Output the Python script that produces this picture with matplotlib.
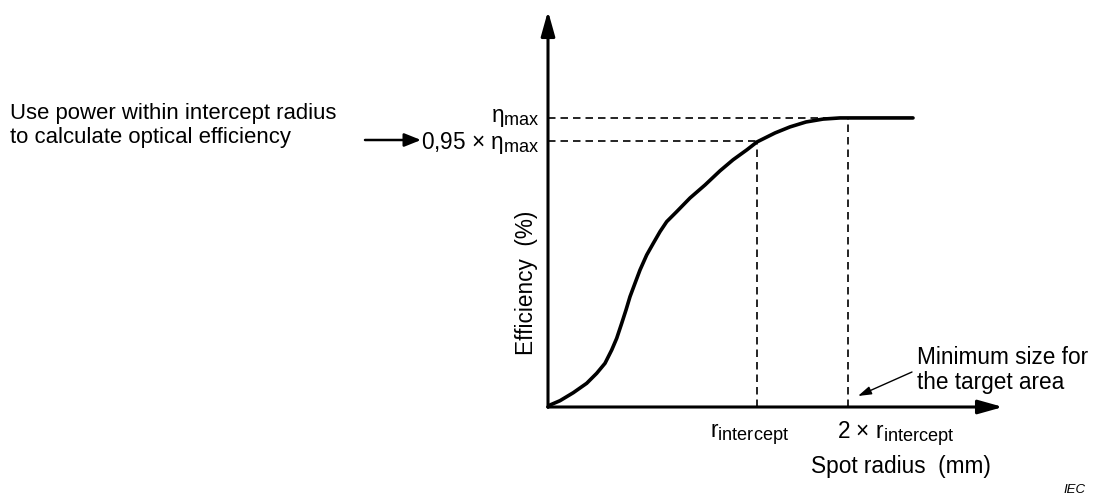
import numpy as np
import matplotlib
matplotlib.use("Agg")
import matplotlib.pyplot as plt
import matplotlib._mathtext as mt

plt.rcParams['font.family'] = ['Liberation Sans', 'DejaVu Sans']
plt.rcParams['mathtext.fontset'] = 'custom'
plt.rcParams['mathtext.rm'] = 'Liberation Sans'
plt.rcParams['mathtext.it'] = 'Liberation Sans:italic'
# subscripts in the reference are a bit larger than mathtext's default
mt.SHRINK_FACTOR = 0.8

# # **data**

radius_mm = [0, 0.02, 0.12, 0.253, 0.387, 0.487, 0.57, 0.637, 0.687, 0.737,
             0.78, 0.82, 0.87, 0.92, 0.987, 1.053, 1.12, 1.187, 1.287, 1.42,
             1.57, 1.72, 1.85, 1.99, 2.09, 2.27, 2.42, 2.58, 2.75, 2.92, 3.65]
efficiency_pct = [0, 0.69, 2.18, 4.95, 8.2, 11.66, 15.12, 19.72, 23.77, 28.96,
                  33.56, 38.17, 42.8, 47.4, 52.6, 56.64, 60.66, 64.12, 67.58, 72.3,
                  76.8, 81.7, 85.5, 89.0, 91.7, 94.8, 96.9, 98.6, 99.6, 100, 100]

r_intercept = 2.09
two_r_intercept = 3.0
eta_max = 100
eta_95 = 92.0

x_max = 4.55
y_max = 136.3

W, H = 1101, 498
fs = 16.3


def fx(px):
    return px / W


def fy(py):
    return 1 - py / H


fig = plt.figure(figsize=(W / 100, H / 100), dpi=100)
ax = fig.add_axes([fx(548), fy(407), (1003 - 548) / W, (407 - 13) / H])
ax.set_xlim(0, x_max)
ax.set_ylim(0, y_max)
ax.axis('off')

# curve
ax.plot(radius_mm, efficiency_pct, color='black', lw=2.6,
        solid_joinstyle='round', solid_capstyle='round', clip_on=False)

# dashed guides
dash = dict(color='black', lw=1.2, ls=(0, (4.5, 3)))
ax.plot([0, two_r_intercept], [eta_max, eta_max], **dash)
ax.plot([0, r_intercept], [eta_95, eta_95], **dash)
ax.plot([r_intercept, r_intercept], [0, eta_95], **dash)
ax.plot([two_r_intercept, two_r_intercept], [0, eta_max], **dash)

# axes with arrows
axis_arrow = dict(arrowstyle='-|>,head_length=1.5,head_width=0.42',
                  lw=2.2, color='black', shrinkA=0, shrinkB=0, mutation_scale=10)
ax.annotate('', xy=(1, 0), xytext=(0, 0), xycoords='axes fraction',
            arrowprops=axis_arrow, annotation_clip=False)
ax.annotate('', xy=(0, 1.005), xytext=(0, 0), xycoords='axes fraction',
            arrowprops=axis_arrow, annotation_clip=False)

# y labels
ax.text(-0.018, eta_max, r'$\mathregular{\eta_{max}}$', ha='right', va='center',
        fontsize=fs, transform=ax.get_yaxis_transform())
ax.text(-0.018, eta_95 - 0.5, r'0,95 $\mathregular{\times\ \eta_{max}}$', ha='right',
        va='center', fontsize=fs, transform=ax.get_yaxis_transform())

# x labels
ax.text(r_intercept - 0.07, -0.068, r'$\mathregular{r_{intercept}}$', ha='center',
        va='center', fontsize=fs, transform=ax.get_xaxis_transform())
ax.text(two_r_intercept + 0.48, -0.068, r'2 $\mathregular{\times\ r_{intercept}}$',
        ha='center', va='center', fontsize=fs, transform=ax.get_xaxis_transform())

fig.text(fx(901), fy(466), 'Spot radius  (mm)', ha='center', va='center', fontsize=fs)
fig.text(fx(527), fy(283), 'Efficiency  (%)', ha='center', va='center',
         rotation=90, fontsize=fs)

# left note with arrow
fig.text(fx(10), fy(113), 'Use power within intercept radius', ha='left',
         va='center', fontsize=15.9)
fig.text(fx(10), fy(137), 'to calculate optical efficiency', ha='left',
         va='center', fontsize=15.9)
fig.add_artist(matplotlib.patches.FancyArrowPatch(
    (fx(365), fy(140)), (fx(421), fy(140)), transform=fig.transFigure,
    arrowstyle='-|>,head_length=1.0,head_width=0.4', mutation_scale=10,
    lw=1.8, color='black', shrinkA=0, shrinkB=0))

# target-area note
fig.text(fx(917), fy(357), 'Minimum size for', ha='left', va='center', fontsize=fs)
fig.text(fx(917), fy(382), 'the target area', ha='left', va='center', fontsize=fs)
fig.add_artist(matplotlib.patches.FancyArrowPatch(
    (fx(912), fy(372)), (fx(858), fy(396)), transform=fig.transFigure,
    arrowstyle='-|>,head_length=0.8,head_width=0.25', mutation_scale=10,
    lw=1.0, color='black', shrinkA=0, shrinkB=0))

fig.text(fx(1086), fy(490), 'IEC', ha='right', va='center', fontsize=9.5,
         style='italic')

fig.savefig('out.png', dpi=100, facecolor='white')
